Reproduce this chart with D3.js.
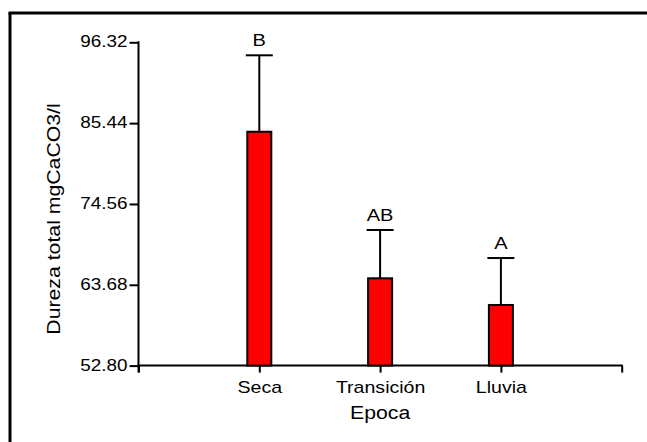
<!DOCTYPE html>
<html>
<head>
<meta charset="utf-8">
<script src="https://cdn.jsdelivr.net/npm/d3@7"></script>
<style>
  html, body { margin: 0; padding: 0; background: #fff; overflow: hidden; }
  svg { display: block; }
  text { font-family: "Liberation Sans", Arial, sans-serif; fill: #000; }
</style>
</head>
<body>
<div id="chart"></div>
<script>
// Dureza total por época: media con barra de error (DE) y letras de agrupación
const epocas = ["Seca", "Transición", "Lluvia"];
const medias = [84.28, 64.55, 60.96];
const desvios = [10.29, 6.50, 6.32];
const letras = ["B", "AB", "A"];
const yTicks = [52.80, 63.68, 74.56, 85.44, 96.32];

const W = 647, H = 442;
const svg = d3.select("#chart").append("svg")
  .attr("width", W).attr("height", H);

// Widen glyphs horizontally (Arial-like text in a wider aspect)
const WIDEN = 1.18;
function widen(sel, k = WIDEN) {
  sel.each(function () {
    const len = this.getComputedTextLength();
    d3.select(this).attr("textLength", len * k).attr("lengthAdjust", "spacingAndGlyphs");
  });
}

// Outer frame: top and left edges
svg.append("line").attr("x1", 8.5).attr("x2", W).attr("y1", 13).attr("y2", 13)
  .attr("stroke", "#000").attr("stroke-width", 3);
svg.append("line").attr("x1", 10).attr("x2", 10).attr("y1", 13).attr("y2", H)
  .attr("stroke", "#000").attr("stroke-width", 3);

const x0 = 138.5, x1 = 621.7, yTop = 42.3, yBot = 365.6;

const y = d3.scaleLinear().domain([52.80, 96.32]).range([yBot, yTop]);
const x = d3.scalePoint().domain(["", ...epocas, " "]).range([x0, x1]);

// Y axis
const yAxis = svg.append("g").attr("transform", `translate(${x0},0)`)
  .call(d3.axisLeft(y).tickValues(yTicks).tickFormat(d3.format(".2f"))
    .tickSizeInner(9).tickSizeOuter(0).tickPadding(2));
yAxis.select(".domain").remove();
yAxis.selectAll(".tick line").attr("stroke", "#000").attr("stroke-width", 2);
yAxis.selectAll(".tick text").attr("font-size", 16).attr("dy", "0.28em")
  .style("font-family", '"Liberation Sans", Arial, sans-serif');
svg.append("line")
  .attr("x1", x0).attr("x2", x0).attr("y1", y(96.32) - 1).attr("y2", yBot + 7)
  .attr("stroke", "#000").attr("stroke-width", 2);

// X axis
const xAxis = svg.append("g").attr("transform", `translate(0,${yBot})`)
  .call(d3.axisBottom(x).tickSizeInner(7).tickSizeOuter(0).tickPadding(5));
xAxis.select(".domain").remove();
xAxis.selectAll(".tick line").attr("stroke", "#000").attr("stroke-width", 2);
xAxis.selectAll(".tick text").attr("font-size", 17).attr("dy", "0.9em")
  .style("font-family", '"Liberation Sans", Arial, sans-serif');
svg.append("line")
  .attr("x1", x0 - 1).attr("x2", x1 + 1).attr("y1", yBot).attr("y2", yBot)
  .attr("stroke", "#000").attr("stroke-width", 2);

// Error bars (upper only)
const barW = 24, capW = 27;
const eb = svg.append("g");
epocas.forEach((e, i) => {
  const cx = x(e);
  eb.append("line")
    .attr("x1", cx).attr("x2", cx)
    .attr("y1", y(medias[i])).attr("y2", y(medias[i] + desvios[i]))
    .attr("stroke", "#000").attr("stroke-width", 2);
  eb.append("line")
    .attr("x1", cx - capW / 2).attr("x2", cx + capW / 2)
    .attr("y1", y(medias[i] + desvios[i])).attr("y2", y(medias[i] + desvios[i]))
    .attr("stroke", "#000").attr("stroke-width", 2);
});

// Bars
svg.append("g").selectAll("rect").data(epocas).join("rect")
  .attr("x", d => x(d) - barW / 2)
  .attr("y", (d, i) => y(medias[i]))
  .attr("width", barW)
  .attr("height", (d, i) => yBot - y(medias[i]))
  .attr("fill", "#ff0000").attr("stroke", "#000").attr("stroke-width", 2);

// Grouping letters above the error caps
const lt = svg.append("g").selectAll("text").data(epocas).join("text")
  .attr("x", d => x(d))
  .attr("y", (d, i) => y(medias[i] + desvios[i]) - 9)
  .attr("text-anchor", "middle").attr("font-size", 17)
  .text((d, i) => letras[i]);

// Axis titles
const xt = svg.append("text")
  .attr("x", (x0 + x1) / 2).attr("y", 419)
  .attr("text-anchor", "middle").attr("font-size", 18)
  .text("Epoca");
const yt = svg.append("text")
  .attr("transform", "translate(60,219) rotate(-90)")
  .attr("text-anchor", "middle").attr("font-size", 18)
  .text("Dureza total mgCaCO3/l");

widen(yAxis.selectAll(".tick text"));
widen(xAxis.selectAll(".tick text"), 1.15);
widen(lt);
widen(xt);
widen(yt);
</script>
</body>
</html>
